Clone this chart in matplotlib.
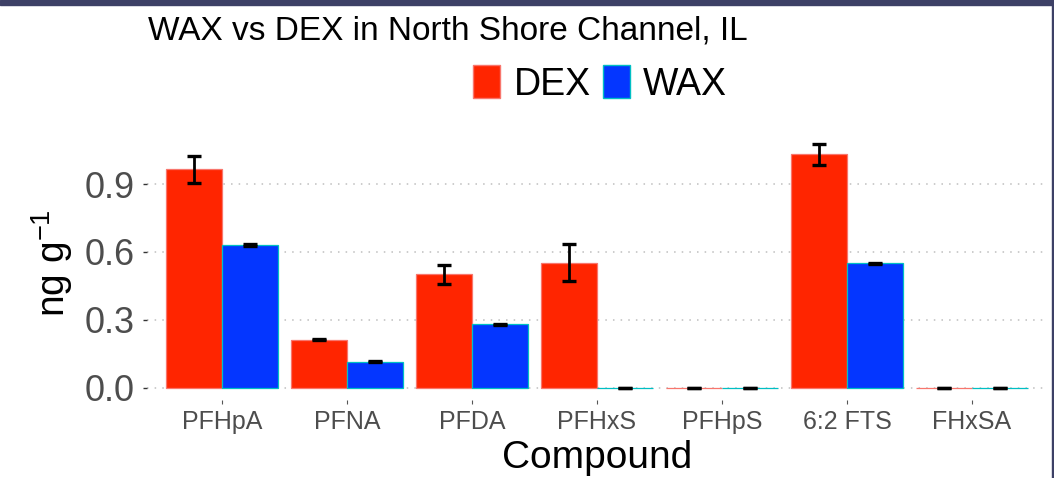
import matplotlib
matplotlib.use("Agg")
import matplotlib.pyplot as plt
import numpy as np
from matplotlib.patches import Patch, Rectangle

plt.rcParams['font.family'] = ['Liberation Sans', 'DejaVu Sans']
plt.rcParams['mathtext.default'] = 'regular'

# values
compounds = ['PFHpA', 'PFNA', 'PFDA', 'PFHxS', 'PFHpS', '6:2 FTS', 'FHxSA']
dex = [0.966, 0.212, 0.502, 0.552, 0.0, 1.032, 0.0]
dex_err = [0.060, 0.003, 0.042, 0.082, 0.0, 0.046, 0.0]
wax = [0.631, 0.116, 0.281, 0.0, 0.0, 0.550, 0.0]
wax_err = [0.003, 0.002, 0.002, 0.0, 0.0, 0.002, 0.0]
yticks = [0.0, 0.3, 0.6, 0.9]

dex_fill, dex_edge = '#FF2500', '#F8766D'
wax_fill, wax_edge = '#0436FF', '#00BFC4'
tick_col = '#4D4D4D'

W, H = 1054, 478
fig = plt.figure(figsize=(W / 100, H / 100), dpi=100)
ax = fig.add_axes([147 / W, 1 - 400 / H, 900 / W, 268 / H])

x = np.arange(len(compounds))
bw = 0.45
ax.bar(x - bw / 2, dex, bw, color=dex_fill, edgecolor=dex_edge, linewidth=0.9, zorder=2)
ax.bar(x + bw / 2, wax, bw, color=wax_fill, edgecolor=wax_edge, linewidth=0.9, zorder=2)
ax.errorbar(x - bw / 2, dex, yerr=dex_err, fmt='none', ecolor='black',
            elinewidth=2.0, capsize=4.8, capthick=2.4, zorder=3)
ax.errorbar(x + bw / 2, wax, yerr=wax_err, fmt='none', ecolor='black',
            elinewidth=2.0, capsize=4.8, capthick=2.4, zorder=3)

ax.set_xlim(-0.6, 6.6)
ax.set_ylim(-0.054, 1.13)
ax.set_yticks(yticks)
ax.set_yticklabels(['%.1f' % v for v in yticks])
ax.set_xticks(x)
ax.set_xticklabels(compounds)
ax.tick_params(axis='y', labelsize=26, labelcolor=tick_col, color='#333333',
               length=3, width=1, pad=6)
ax.tick_params(axis='x', labelsize=18, labelcolor=tick_col, color='#555555',
               length=3, width=0.8, pad=4)
ax.yaxis.grid(True, color='#BEBEBE', linestyle=(0, (1, 4)), linewidth=1.1, zorder=0)
ax.set_axisbelow(True)
for s in ax.spines.values():
    s.set_visible(False)

fig.text(148 / W, 1 - 40 / H, 'WAX vs DEX in North Shore Channel, IL',
         fontsize=24, va='baseline', ha='left')
fig.text(597 / W, 1 - 468 / H, 'Compound', fontsize=28, va='baseline', ha='center')
fig.text(52 / W, 1 - 263 / H, r'ng g$^{-1}$', fontsize=28, rotation=90,
         va='center', ha='center')

handles = [Patch(facecolor=dex_fill, edgecolor=dex_edge, label='DEX'),
           Patch(facecolor=wax_fill, edgecolor=wax_edge, label='WAX')]
fig.legend(handles=handles, loc='center', bbox_to_anchor=(600 / W, 1 - 84 / H),
           ncol=2, frameon=False, fontsize=27, handlelength=0.72, handleheight=0.96,
           handletextpad=0.35, columnspacing=0.32, borderpad=0)

# dark frame strip along top and right edge
fig.patches.append(Rectangle((0, 1 - 4.5 / H), 1, 4.5 / H, transform=fig.transFigure,
                             color='#3D4066', zorder=10))
fig.patches.append(Rectangle((1 - 2 / W, 0), 2 / W, 1, transform=fig.transFigure,
                             color='#3D4066', zorder=10))

fig.savefig('out.png', dpi=100)
